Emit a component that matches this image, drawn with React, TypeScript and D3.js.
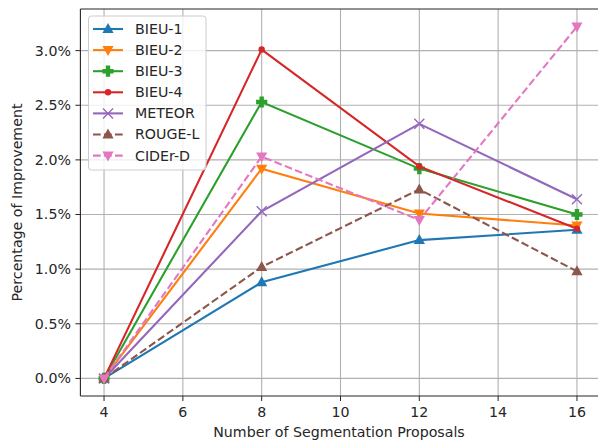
import { useEffect, useRef } from 'react';
import * as d3 from 'd3';

const proposals = [4, 8, 12, 16];
const seriesNames = ['BIEU-1', 'BIEU-2', 'BIEU-3', 'BIEU-4', 'METEOR', 'ROUGE-L', 'CIDEr-D'];
const bleu1 = [0, 0.88, 1.266, 1.36];
const bleu2 = [0, 1.92, 1.51, 1.40];
const bleu3 = [0, 2.53, 1.92, 1.50];
const bleu4 = [0, 3.01, 1.94, 1.37];
const meteor = [0, 1.53, 2.33, 1.64];
const rougeL = [0, 1.02, 1.73, 0.98];
const ciderD = [0, 2.03, 1.45, 3.22];
const xTicks = [4, 6, 8, 10, 12, 14, 16];
const yTicks = [0, 0.5, 1.0, 1.5, 2.0, 2.5, 3.0];

const colors = ['#1f77b4', '#ff7f0e', '#2ca02c', '#d62728', '#9467bd', '#8c564b', '#e377c2'];
const markers = ['up', 'down', 'plus', 'dot', 'x', 'up', 'down'];
const dashed = [false, false, false, false, false, true, true];

const W = 598, H = 441;
const M = { left: 80.4, right: 600.6, top: 9, bottom: 396 };
const FONT = 'DejaVu Sans, sans-serif';
const FS = 14.2;

function drawMarker(g: any, kind: string, x: number, y: number, c: string) {
  if (kind === 'up') {
    g.append('path').attr('d', `M${x},${y - 6}L${x + 5.6},${y + 4}L${x - 5.6},${y + 4}Z`).attr('fill', c);
  } else if (kind === 'down') {
    g.append('path').attr('d', `M${x},${y + 6}L${x + 5.6},${y - 4}L${x - 5.6},${y - 4}Z`).attr('fill', c);
  } else if (kind === 'plus') {
    const a = 5.6, b = 2.2;
    g.append('path')
      .attr('d', `M${x - b},${y - a}H${x + b}V${y - b}H${x + a}V${y + b}H${x + b}V${y + a}H${x - b}V${y + b}H${x - a}V${y - b}H${x - b}Z`)
      .attr('fill', c);
  } else if (kind === 'dot') {
    g.append('circle').attr('cx', x).attr('cy', y).attr('r', 3.2).attr('fill', c);
  } else if (kind === 'x') {
    g.append('path').attr('d', `M${x - 5},${y - 5}L${x + 5},${y + 5}M${x - 5},${y + 5}L${x + 5},${y - 5}`)
      .attr('stroke', c).attr('stroke-width', 1.4).attr('fill', 'none');
  }
}

export default function App() {
  const ref = useRef<SVGSVGElement>(null);

  useEffect(() => {
    if (!ref.current) return;
    const svg = d3.select(ref.current);
    svg.selectAll('*').remove();

    const x = d3.scaleLinear().domain([3.4, 16.6]).range([M.left, M.right]);
    const y = d3.scaleLinear().domain([-0.161, 3.381]).range([M.bottom, M.top]);

    svg.append('defs').append('clipPath').attr('id', 'plot')
      .append('rect').attr('x', M.left).attr('y', M.top).attr('width', M.right - M.left).attr('height', M.bottom - M.top);

    // grid
    const grid = svg.append('g').attr('stroke', '#b0b0b0').attr('stroke-width', 1.1);
    xTicks.forEach(t => {
      grid.append('line').attr('x1', x(t)).attr('x2', x(t)).attr('y1', M.top).attr('y2', M.bottom);
    });
    yTicks.forEach(t => {
      grid.append('line').attr('x1', M.left).attr('x2', M.right).attr('y1', y(t)).attr('y2', y(t));
    });

    // series
    const all = [bleu1, bleu2, bleu3, bleu4, meteor, rougeL, ciderD];
    const line = d3.line<number>().x((_, i) => x(proposals[i])).y(d => y(d));
    const plot = svg.append('g').attr('clip-path', 'url(#plot)');
    all.forEach((vals, k) => {
      const g = plot.append('g');
      g.append('path').attr('d', line(vals)!).attr('fill', 'none').attr('stroke', colors[k])
        .attr('stroke-width', 2.1).attr('stroke-dasharray', dashed[k] ? '7.7,3.3' : null);
      vals.forEach((v, i) => drawMarker(g, markers[k], x(proposals[i]), y(v), colors[k]));
    });

    // axes frame
    const frame = svg.append('g').attr('stroke', '#262626').attr('stroke-width', 1.1);
    frame.append('line').attr('x1', M.left).attr('x2', M.left).attr('y1', M.top).attr('y2', M.bottom);
    frame.append('line').attr('x1', M.left).attr('x2', M.right).attr('y1', M.bottom).attr('y2', M.bottom);
    frame.append('line').attr('x1', M.left).attr('x2', M.right).attr('y1', M.top).attr('y2', M.top);

    // ticks
    const tk = svg.append('g').attr('font-family', FONT).attr('font-size', FS).attr('fill', '#262626');
    xTicks.forEach(t => {
      tk.append('line').attr('x1', x(t)).attr('x2', x(t)).attr('y1', M.bottom).attr('y2', M.bottom + 5)
        .attr('stroke', '#262626');
      tk.append('text').attr('x', x(t)).attr('y', 412).attr('dy', '0.35em').attr('text-anchor', 'middle').text(String(t));
    });
    yTicks.forEach(t => {
      tk.append('line').attr('x1', M.left - 5).attr('x2', M.left).attr('y1', y(t)).attr('y2', y(t))
        .attr('stroke', '#262626');
      tk.append('text').attr('x', M.left - 9.5).attr('y', y(t)).attr('dy', '0.35em').attr('text-anchor', 'end')
        .text(d3.format('.1f')(t) + '%');
    });

    svg.append('text').attr('x', 339).attr('y', 432).attr('dy', '0.35em').attr('text-anchor', 'middle')
      .attr('font-family', FONT).attr('font-size', FS).attr('fill', '#262626').text('Number of Segmentation Proposals');
    svg.append('text').attr('transform', `translate(17,${(M.top + M.bottom) / 2}) rotate(-90)`)
      .attr('dy', '0.35em').attr('text-anchor', 'middle').attr('font-family', FONT).attr('font-size', FS)
      .attr('fill', '#262626').text('Percentage of Improvement');

    // legend
    const lg = svg.append('g');
    lg.append('rect').attr('x', 88.5).attr('y', 16).attr('width', 117.5).attr('height', 154).attr('rx', 3)
      .attr('fill', 'white').attr('fill-opacity', 0.8).attr('stroke', '#cccccc');
    seriesNames.forEach((name, k) => {
      const ly = 29 + k * 21.1;
      lg.append('line').attr('x1', 93).attr('x2', 123).attr('y1', ly).attr('y2', ly)
        .attr('stroke', colors[k]).attr('stroke-width', 2.1).attr('stroke-dasharray', dashed[k] ? '7.7,3.3' : null);
      drawMarker(lg, markers[k], 108, ly, colors[k]);
      lg.append('text').attr('x', 135).attr('y', ly).attr('dy', '0.35em').attr('font-family', FONT)
        .attr('font-size', FS).attr('fill', '#262626').text(name);
    });
  }, []);

  return <svg ref={ref} width={W} height={H} style={{ position: 'absolute', left: 0, top: 0, background: 'white' }} />;
}
